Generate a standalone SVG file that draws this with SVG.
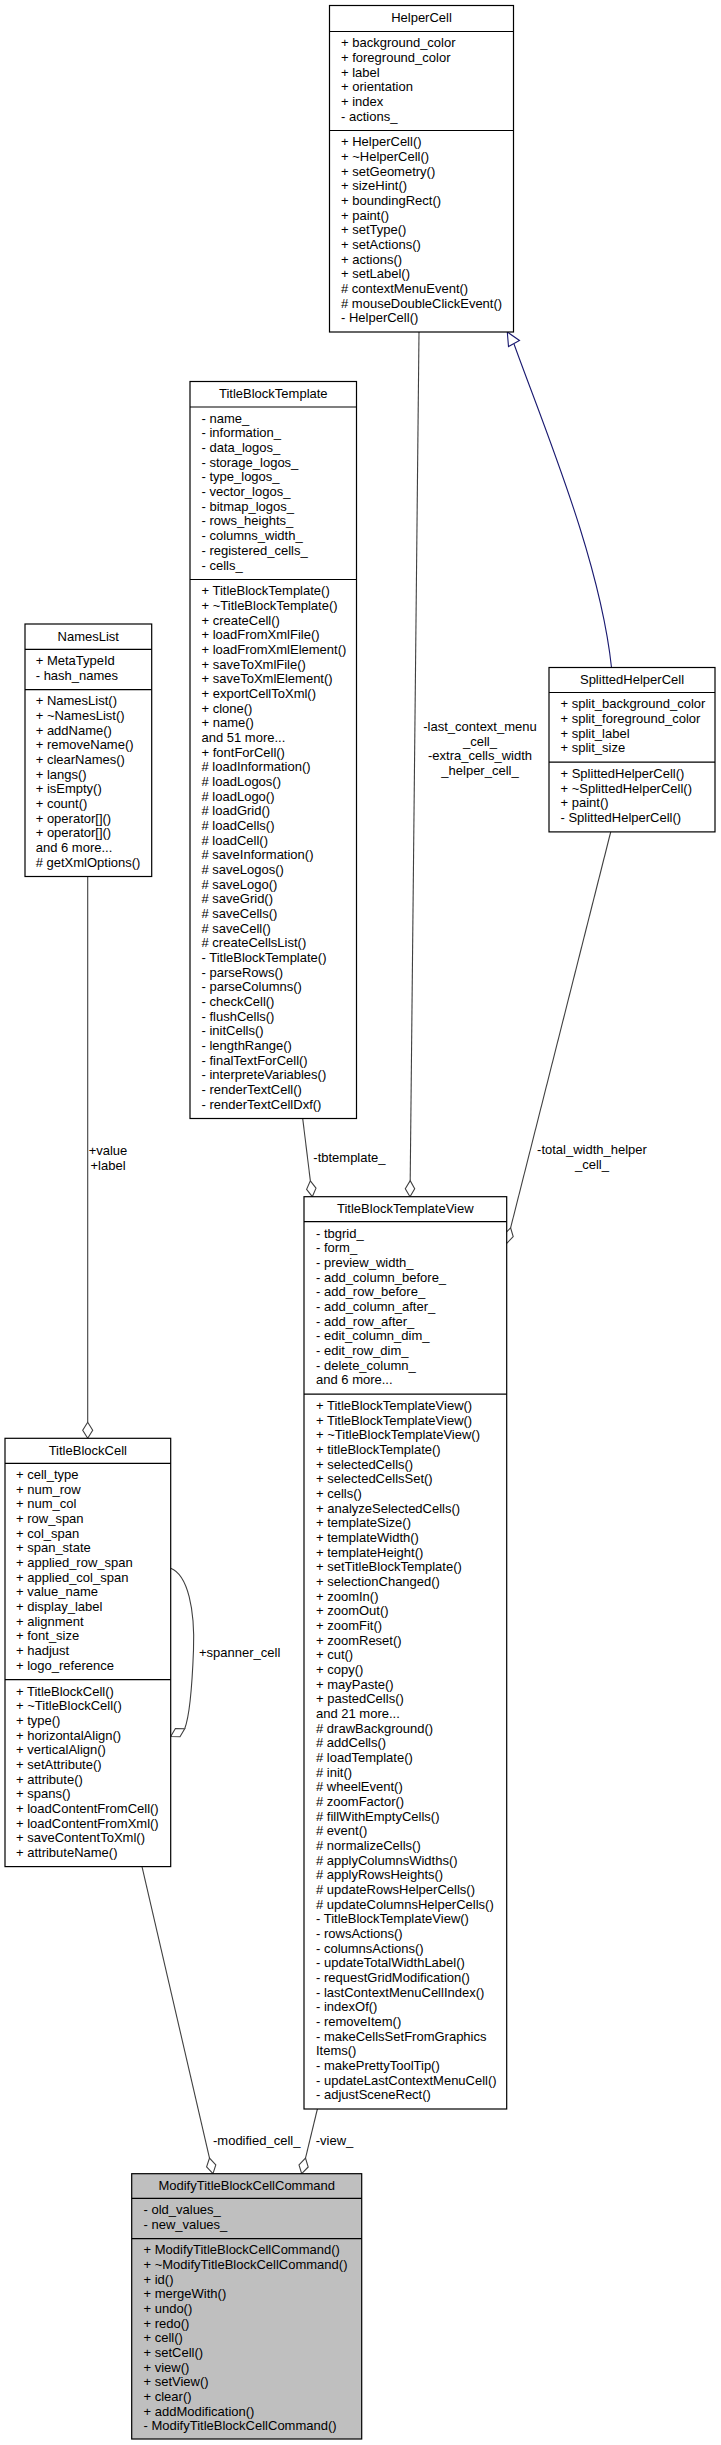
<svg xmlns="http://www.w3.org/2000/svg" width="721" height="2445" viewBox="0 0 721 2445">
<style>
text{font-family:"Liberation Sans",Arial,Helvetica,sans-serif;font-size:13px;fill:#000}
.t{text-anchor:middle}
.lbl{text-anchor:middle}
.box{fill:#fff;stroke:#000;stroke-width:1.2}
.cur{fill:#bfbfbf;stroke:#000;stroke-width:1.2}
.sep{stroke:#000;stroke-width:1.2}
.e{fill:none;stroke:#404040;stroke-width:1.1}
.d{fill:#fff;stroke:#404040;stroke-width:1.1}
.inh{fill:none;stroke:#191970;stroke-width:1.1}
.tri{fill:#fff;stroke:#191970;stroke-width:1.1}
</style>
<rect width="721" height="2445" fill="#fff"/>
<g id="connectors">
  <!-- inheritance SplittedHelperCell -> HelperCell -->
  <path class="inh" d="M611.5,667.5 C600,560 545,430 514,344"/>
  <polygon class="tri" points="507.3,332 519.5,340.5 508.5,346.5"/>
  <!-- HelperCell -> TitleBlockTemplateView -->
  <path class="e" d="M419,332 L410.2,1180.7"/>
  <polygon class="d" points="410,1196.7 414.7,1188.7 410.2,1180.7 405.3,1188.7"/>
  <text class="lbl" x="480" y="731">-last_context_menu</text>
  <text class="lbl" x="480" y="745.7">_cell_</text>
  <text class="lbl" x="480" y="760.4">-extra_cells_width</text>
  <text class="lbl" x="480" y="775">_helper_cell_</text>
  <!-- TitleBlockTemplate -> TitleBlockTemplateView -->
  <path class="e" d="M302.7,1118.5 L310.35,1180.8"/>
  <polygon class="d" points="312.3,1196.7 316,1188.1 310.35,1180.8 306.6,1189.3"/>
  <text x="313.3" y="1162">-tbtemplate_</text>
  <!-- SplittedHelperCell -> TitleBlockTemplateView -->
  <path class="e" d="M610.7,832 L510.6,1227.8"/>
  <polygon class="d" points="506.7,1243.3 513.2,1236.7 510.6,1227.8 504.1,1234.4"/>
  <text class="lbl" x="592" y="1154">-total_width_helper</text>
  <text class="lbl" x="592" y="1168.7">_cell_</text>
  <!-- NamesList -> TitleBlockCell -->
  <path class="e" d="M87.7,876.5 L87.7,1422.3"/>
  <polygon class="d" points="87.7,1438.3 92.7,1430.3 87.7,1422.3 82.7,1430.3"/>
  <text class="lbl" x="108" y="1155">+value</text>
  <text class="lbl" x="108" y="1169.7">+label</text>
  <!-- TitleBlockCell self loop -->
  <path class="e" d="M170.7,1568.3 C188,1575 195,1610 193.5,1650 C192,1690 190,1715 184.7,1728.7"/>
  <polygon class="d" points="170.7,1736.5 180,1736.7 184.7,1728.7 175.4,1728.5"/>
  <text x="199" y="1657">+spanner_cell</text>
  <!-- TitleBlockCell -> ModifyTitleBlockCellCommand -->
  <path class="e" d="M142,1866.6 L209.5,2158.1"/>
  <polygon class="d" points="213,2173.7 215.8,2164.9 209.5,2158.1 206.6,2166.9"/>
  <text x="213" y="2145">-modified_cell_</text>
  <!-- TitleBlockTemplateView -> ModifyTitleBlockCellCommand -->
  <path class="e" d="M317.5,2108.5 L305.5,2158.1"/>
  <polygon class="d" points="301.7,2173.7 308.2,2167 305.5,2158.1 299,2164.8"/>
  <text x="315.7" y="2145">-view_</text>
</g>
<g id="HelperCell">
  <rect class="box" x="329.5" y="5.5" width="184" height="326.5"/>
  <line class="sep" x1="329.5" y1="31.5" x2="513.5" y2="31.5"/>
  <line class="sep" x1="329.5" y1="130.5" x2="513.5" y2="130.5"/>
  <text class="t" x="421.5" y="22">HelperCell</text>
  <text x="341" y="47.3">+ background_color<tspan x="341" dy="14.67">+ foreground_color</tspan><tspan x="341" dy="14.67">+ label</tspan><tspan x="341" dy="14.67">+ orientation</tspan><tspan x="341" dy="14.67">+ index</tspan><tspan x="341" dy="14.67">- actions_</tspan></text>
  <text x="341" y="146.3">+ HelperCell()<tspan x="341" dy="14.67">+ ~HelperCell()</tspan><tspan x="341" dy="14.67">+ setGeometry()</tspan><tspan x="341" dy="14.67">+ sizeHint()</tspan><tspan x="341" dy="14.67">+ boundingRect()</tspan><tspan x="341" dy="14.67">+ paint()</tspan><tspan x="341" dy="14.67">+ setType()</tspan><tspan x="341" dy="14.67">+ setActions()</tspan><tspan x="341" dy="14.67">+ actions()</tspan><tspan x="341" dy="14.67">+ setLabel()</tspan><tspan x="341" dy="14.67"># contextMenuEvent()</tspan><tspan x="341" dy="14.67"># mouseDoubleClickEvent()</tspan><tspan x="341" dy="14.67">- HelperCell()</tspan></text>
</g>
<g id="TitleBlockTemplate">
  <rect class="box" x="190" y="381.5" width="166.5" height="737"/>
  <line class="sep" x1="190" y1="407" x2="356.5" y2="407"/>
  <line class="sep" x1="190" y1="579.5" x2="356.5" y2="579.5"/>
  <text class="t" x="273.3" y="398">TitleBlockTemplate</text>
  <text x="201.5" y="422.8">- name_<tspan x="201.5" dy="14.67">- information_</tspan><tspan x="201.5" dy="14.67">- data_logos_</tspan><tspan x="201.5" dy="14.67">- storage_logos_</tspan><tspan x="201.5" dy="14.67">- type_logos_</tspan><tspan x="201.5" dy="14.67">- vector_logos_</tspan><tspan x="201.5" dy="14.67">- bitmap_logos_</tspan><tspan x="201.5" dy="14.67">- rows_heights_</tspan><tspan x="201.5" dy="14.67">- columns_width_</tspan><tspan x="201.5" dy="14.67">- registered_cells_</tspan><tspan x="201.5" dy="14.67">- cells_</tspan></text>
  <text x="201.5" y="595.3">+ TitleBlockTemplate()<tspan x="201.5" dy="14.67">+ ~TitleBlockTemplate()</tspan><tspan x="201.5" dy="14.67">+ createCell()</tspan><tspan x="201.5" dy="14.67">+ loadFromXmlFile()</tspan><tspan x="201.5" dy="14.67">+ loadFromXmlElement()</tspan><tspan x="201.5" dy="14.67">+ saveToXmlFile()</tspan><tspan x="201.5" dy="14.67">+ saveToXmlElement()</tspan><tspan x="201.5" dy="14.67">+ exportCellToXml()</tspan><tspan x="201.5" dy="14.67">+ clone()</tspan><tspan x="201.5" dy="14.67">+ name()</tspan><tspan x="201.5" dy="14.67">and 51 more...</tspan><tspan x="201.5" dy="14.67">+ fontForCell()</tspan><tspan x="201.5" dy="14.67"># loadInformation()</tspan><tspan x="201.5" dy="14.67"># loadLogos()</tspan><tspan x="201.5" dy="14.67"># loadLogo()</tspan><tspan x="201.5" dy="14.67"># loadGrid()</tspan><tspan x="201.5" dy="14.67"># loadCells()</tspan><tspan x="201.5" dy="14.67"># loadCell()</tspan><tspan x="201.5" dy="14.67"># saveInformation()</tspan><tspan x="201.5" dy="14.67"># saveLogos()</tspan><tspan x="201.5" dy="14.67"># saveLogo()</tspan><tspan x="201.5" dy="14.67"># saveGrid()</tspan><tspan x="201.5" dy="14.67"># saveCells()</tspan><tspan x="201.5" dy="14.67"># saveCell()</tspan><tspan x="201.5" dy="14.67"># createCellsList()</tspan><tspan x="201.5" dy="14.67">- TitleBlockTemplate()</tspan><tspan x="201.5" dy="14.67">- parseRows()</tspan><tspan x="201.5" dy="14.67">- parseColumns()</tspan><tspan x="201.5" dy="14.67">- checkCell()</tspan><tspan x="201.5" dy="14.67">- flushCells()</tspan><tspan x="201.5" dy="14.67">- initCells()</tspan><tspan x="201.5" dy="14.67">- lengthRange()</tspan><tspan x="201.5" dy="14.67">- finalTextForCell()</tspan><tspan x="201.5" dy="14.67">- interpreteVariables()</tspan><tspan x="201.5" dy="14.67">- renderTextCell()</tspan><tspan x="201.5" dy="14.67">- renderTextCellDxf()</tspan></text>
</g>
<g id="NamesList">
  <rect class="box" x="25" y="624" width="126.7" height="252.5"/>
  <line class="sep" x1="25" y1="649.3" x2="151.7" y2="649.3"/>
  <line class="sep" x1="25" y1="689.6" x2="151.7" y2="689.6"/>
  <text class="t" x="88.3" y="640.5">NamesList</text>
  <text x="35.7" y="665.1">+ MetaTypeId<tspan x="35.7" dy="14.67">- hash_names</tspan></text>
  <text x="35.7" y="705.4">+ NamesList()<tspan x="35.7" dy="14.67">+ ~NamesList()</tspan><tspan x="35.7" dy="14.67">+ addName()</tspan><tspan x="35.7" dy="14.67">+ removeName()</tspan><tspan x="35.7" dy="14.67">+ clearNames()</tspan><tspan x="35.7" dy="14.67">+ langs()</tspan><tspan x="35.7" dy="14.67">+ isEmpty()</tspan><tspan x="35.7" dy="14.67">+ count()</tspan><tspan x="35.7" dy="14.67">+ operator[]()</tspan><tspan x="35.7" dy="14.67">+ operator[]()</tspan><tspan x="35.7" dy="14.67">and 6 more...</tspan><tspan x="35.7" dy="14.67"># getXmlOptions()</tspan></text>
</g>
<g id="SplittedHelperCell">
  <rect class="box" x="549" y="667.5" width="166" height="164.4"/>
  <line class="sep" x1="549" y1="692.5" x2="715" y2="692.5"/>
  <line class="sep" x1="549" y1="762.2" x2="715" y2="762.2"/>
  <text class="t" x="632" y="684">SplittedHelperCell</text>
  <text x="560.5" y="708.3">+ split_background_color<tspan x="560.5" dy="14.67">+ split_foreground_color</tspan><tspan x="560.5" dy="14.67">+ split_label</tspan><tspan x="560.5" dy="14.67">+ split_size</tspan></text>
  <text x="560.5" y="778">+ SplittedHelperCell()<tspan x="560.5" dy="14.67">+ ~SplittedHelperCell()</tspan><tspan x="560.5" dy="14.67">+ paint()</tspan><tspan x="560.5" dy="14.67">- SplittedHelperCell()</tspan></text>
</g>
<g id="TitleBlockTemplateView">
  <rect class="box" x="304" y="1196.7" width="202.7" height="912.3"/>
  <line class="sep" x1="304" y1="1221.7" x2="506.7" y2="1221.7"/>
  <line class="sep" x1="304" y1="1394.1" x2="506.7" y2="1394.1"/>
  <text class="t" x="405.3" y="1213">TitleBlockTemplateView</text>
  <text x="316" y="1237.5">- tbgrid_<tspan x="316" dy="14.67">- form_</tspan><tspan x="316" dy="14.67">- preview_width_</tspan><tspan x="316" dy="14.67">- add_column_before_</tspan><tspan x="316" dy="14.67">- add_row_before_</tspan><tspan x="316" dy="14.67">- add_column_after_</tspan><tspan x="316" dy="14.67">- add_row_after_</tspan><tspan x="316" dy="14.67">- edit_column_dim_</tspan><tspan x="316" dy="14.67">- edit_row_dim_</tspan><tspan x="316" dy="14.67">- delete_column_</tspan><tspan x="316" dy="14.67">and 6 more...</tspan></text>
  <text x="316" y="1409.9">+ TitleBlockTemplateView()<tspan x="316" dy="14.67">+ TitleBlockTemplateView()</tspan><tspan x="316" dy="14.67">+ ~TitleBlockTemplateView()</tspan><tspan x="316" dy="14.67">+ titleBlockTemplate()</tspan><tspan x="316" dy="14.67">+ selectedCells()</tspan><tspan x="316" dy="14.67">+ selectedCellsSet()</tspan><tspan x="316" dy="14.67">+ cells()</tspan><tspan x="316" dy="14.67">+ analyzeSelectedCells()</tspan><tspan x="316" dy="14.67">+ templateSize()</tspan><tspan x="316" dy="14.67">+ templateWidth()</tspan><tspan x="316" dy="14.67">+ templateHeight()</tspan><tspan x="316" dy="14.67">+ setTitleBlockTemplate()</tspan><tspan x="316" dy="14.67">+ selectionChanged()</tspan><tspan x="316" dy="14.67">+ zoomIn()</tspan><tspan x="316" dy="14.67">+ zoomOut()</tspan><tspan x="316" dy="14.67">+ zoomFit()</tspan><tspan x="316" dy="14.67">+ zoomReset()</tspan><tspan x="316" dy="14.67">+ cut()</tspan><tspan x="316" dy="14.67">+ copy()</tspan><tspan x="316" dy="14.67">+ mayPaste()</tspan><tspan x="316" dy="14.67">+ pastedCells()</tspan><tspan x="316" dy="14.67">and 21 more...</tspan><tspan x="316" dy="14.67"># drawBackground()</tspan><tspan x="316" dy="14.67"># addCells()</tspan><tspan x="316" dy="14.67"># loadTemplate()</tspan><tspan x="316" dy="14.67"># init()</tspan><tspan x="316" dy="14.67"># wheelEvent()</tspan><tspan x="316" dy="14.67"># zoomFactor()</tspan><tspan x="316" dy="14.67"># fillWithEmptyCells()</tspan><tspan x="316" dy="14.67"># event()</tspan><tspan x="316" dy="14.67"># normalizeCells()</tspan><tspan x="316" dy="14.67"># applyColumnsWidths()</tspan><tspan x="316" dy="14.67"># applyRowsHeights()</tspan><tspan x="316" dy="14.67"># updateRowsHelperCells()</tspan><tspan x="316" dy="14.67"># updateColumnsHelperCells()</tspan><tspan x="316" dy="14.67">- TitleBlockTemplateView()</tspan><tspan x="316" dy="14.67">- rowsActions()</tspan><tspan x="316" dy="14.67">- columnsActions()</tspan><tspan x="316" dy="14.67">- updateTotalWidthLabel()</tspan><tspan x="316" dy="14.67">- requestGridModification()</tspan><tspan x="316" dy="14.67">- lastContextMenuCellIndex()</tspan><tspan x="316" dy="14.67">- indexOf()</tspan><tspan x="316" dy="14.67">- removeItem()</tspan><tspan x="316" dy="14.67">- makeCellsSetFromGraphics</tspan><tspan x="316" dy="14.67">Items()</tspan><tspan x="316" dy="14.67">- makePrettyToolTip()</tspan><tspan x="316" dy="14.67">- updateLastContextMenuCell()</tspan><tspan x="316" dy="14.67">- adjustSceneRect()</tspan></text>
</g>
<g id="TitleBlockCell">
  <rect class="box" x="5" y="1438.3" width="165.7" height="428.3"/>
  <line class="sep" x1="5" y1="1463.3" x2="170.7" y2="1463.3"/>
  <line class="sep" x1="5" y1="1679.7" x2="170.7" y2="1679.7"/>
  <text class="t" x="87.8" y="1454.8">TitleBlockCell</text>
  <text x="16" y="1479.1">+ cell_type<tspan x="16" dy="14.67">+ num_row</tspan><tspan x="16" dy="14.67">+ num_col</tspan><tspan x="16" dy="14.67">+ row_span</tspan><tspan x="16" dy="14.67">+ col_span</tspan><tspan x="16" dy="14.67">+ span_state</tspan><tspan x="16" dy="14.67">+ applied_row_span</tspan><tspan x="16" dy="14.67">+ applied_col_span</tspan><tspan x="16" dy="14.67">+ value_name</tspan><tspan x="16" dy="14.67">+ display_label</tspan><tspan x="16" dy="14.67">+ alignment</tspan><tspan x="16" dy="14.67">+ font_size</tspan><tspan x="16" dy="14.67">+ hadjust</tspan><tspan x="16" dy="14.67">+ logo_reference</tspan></text>
  <text x="16" y="1695.5">+ TitleBlockCell()<tspan x="16" dy="14.67">+ ~TitleBlockCell()</tspan><tspan x="16" dy="14.67">+ type()</tspan><tspan x="16" dy="14.67">+ horizontalAlign()</tspan><tspan x="16" dy="14.67">+ verticalAlign()</tspan><tspan x="16" dy="14.67">+ setAttribute()</tspan><tspan x="16" dy="14.67">+ attribute()</tspan><tspan x="16" dy="14.67">+ spans()</tspan><tspan x="16" dy="14.67">+ loadContentFromCell()</tspan><tspan x="16" dy="14.67">+ loadContentFromXml()</tspan><tspan x="16" dy="14.67">+ saveContentToXml()</tspan><tspan x="16" dy="14.67">+ attributeName()</tspan></text>
</g>
<g id="ModifyTitleBlockCellCommand">
  <rect class="cur" x="131.7" y="2173.7" width="230" height="265.3"/>
  <line class="sep" x1="131.7" y1="2198.3" x2="361.7" y2="2198.3"/>
  <line class="sep" x1="131.7" y1="2238.6" x2="361.7" y2="2238.6"/>
  <text class="t" x="246.7" y="2190.2">ModifyTitleBlockCellCommand</text>
  <text x="143.5" y="2214.1">- old_values_<tspan x="143.5" dy="14.67">- new_values_</tspan></text>
  <text x="143.5" y="2254.4">+ ModifyTitleBlockCellCommand()<tspan x="143.5" dy="14.67">+ ~ModifyTitleBlockCellCommand()</tspan><tspan x="143.5" dy="14.67">+ id()</tspan><tspan x="143.5" dy="14.67">+ mergeWith()</tspan><tspan x="143.5" dy="14.67">+ undo()</tspan><tspan x="143.5" dy="14.67">+ redo()</tspan><tspan x="143.5" dy="14.67">+ cell()</tspan><tspan x="143.5" dy="14.67">+ setCell()</tspan><tspan x="143.5" dy="14.67">+ view()</tspan><tspan x="143.5" dy="14.67">+ setView()</tspan><tspan x="143.5" dy="14.67">+ clear()</tspan><tspan x="143.5" dy="14.67">+ addModification()</tspan><tspan x="143.5" dy="14.67">- ModifyTitleBlockCellCommand()</tspan></text>
</g>
</svg>
